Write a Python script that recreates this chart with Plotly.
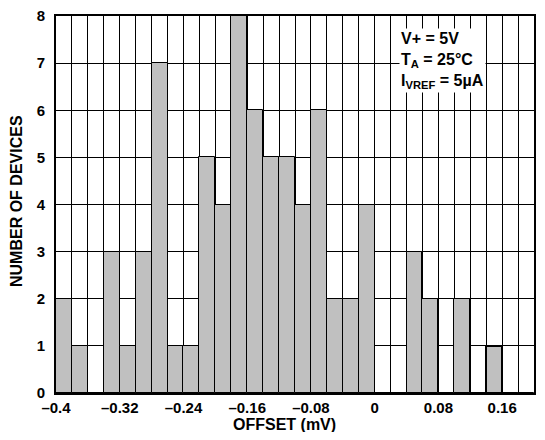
import numpy as np
import plotly.graph_objects as go

# Histogram data: bins of 0.02 mV starting at -0.40 mV
bin_start = -0.40
bin_width = 0.02
counts = [2, 1, 0, 3, 1, 3, 7, 1, 1, 5, 4, 8, 6, 5, 5, 4, 6, 2, 2, 4,
          0, 0, 3, 2, 0, 2, 0, 1, 0, 0]

x_tick_vals = [-0.40, -0.32, -0.24, -0.16, -0.08, 0.0, 0.08, 0.16]
x_tick_text = ["–0.4", "–0.32", "–0.24", "–0.16", "–0.08", "0", "0.08", "0.16"]
y_tick_vals = [0, 1, 2, 3, 4, 5, 6, 7, 8]

n = len(counts)
edges = bin_start + bin_width * np.arange(n)
x_min = bin_start
x_max = bin_start + bin_width * n

# the last bar is outlined more heavily in the reference
outline_widths = [1] * n
outline_widths[27] = 2

font_family = "Liberation Sans, Arial, sans-serif"
FS_TICK = 15
FS_TXT = 16

# page has an 8px body margin; figure coordinates = picture coordinates - 8
OFF = 8
W, H = 545 - 2 * OFF, 440 - 2 * OFF
PL, PR, PT, PB = 56 - OFF, 534 - OFF, 16 - OFF, 393 - OFF
pw, ph = PR - PL, PB - PT


def px(xpic):
    return (xpic - OFF - PL) / pw


def py(ypic):
    return 1 - (ypic - OFF - PT) / ph


fig = go.Figure()
fig.add_trace(go.Bar(
    x=edges, y=counts, width=bin_width, offset=0,
    marker=dict(color="#c0c0c0", line=dict(color="black", width=outline_widths)),
    showlegend=False, hoverinfo="skip",
))

fig.update_layout(
    width=W, height=H,
    margin=dict(l=PL, r=W - PR, t=PT, b=H - PB, pad=0),
    paper_bgcolor="white", plot_bgcolor="white",
    font=dict(family=font_family, size=FS_TXT, color="black"),
    bargap=0,
    annotations=[
        dict(
            xref="paper", yref="paper",
            x=px(399), y=py(28),
            xanchor="left", yanchor="top", align="left",
            text="<b>V+ = 5V<br>T<sub>A</sub> = 25°C<br>I<sub>VREF</sub> = 5µA</b>",
            showarrow=False, bgcolor="white", borderpad=1,
            font=dict(family=font_family, size=FS_TXT, color="black"),
        ),
        dict(
            xref="paper", yref="paper",
            x=px(284), y=py(424),
            xanchor="center", yanchor="middle",
            text="<b>OFFSET (mV)</b>", showarrow=False,
            font=dict(family=font_family, size=FS_TXT, color="black"),
        ),
        dict(
            xref="paper", yref="paper",
            x=px(16), y=py(201),
            xanchor="center", yanchor="middle", textangle=-90,
            text="<b>NUMBER OF DEVICES</b>", showarrow=False,
            font=dict(family=font_family, size=FS_TXT, color="black"),
        ),
    ],
)

fig.update_xaxes(
    range=[x_min, x_max], automargin=False,
    tickmode="array", tickvals=x_tick_vals, ticktext=x_tick_text,
    tickfont=dict(family=font_family, size=FS_TICK, color="black", weight="bold"),
    ticks="", ticklen=0, ticklabeloverflow="allow",
    showgrid=True, gridcolor="black", gridwidth=1,
    minor=dict(dtick=bin_width, tick0=bin_start, showgrid=True,
               gridcolor="black", gridwidth=1, ticks=""),
    showline=True, linecolor="black", linewidth=2, mirror=True,
    zeroline=False,
)

fig.update_yaxes(
    range=[0, 8], automargin=False,
    tickmode="array", tickvals=y_tick_vals,
    tickfont=dict(family=font_family, size=FS_TICK, color="black", weight="bold"),
    ticks="outside", ticklen=6, tickcolor="rgba(0,0,0,0)",
    ticklabeloverflow="allow",
    showgrid=True, gridcolor="black", gridwidth=1,
    showline=True, linecolor="black", linewidth=2, mirror=True,
    zeroline=False,
)

fig.write_html("out.html")
